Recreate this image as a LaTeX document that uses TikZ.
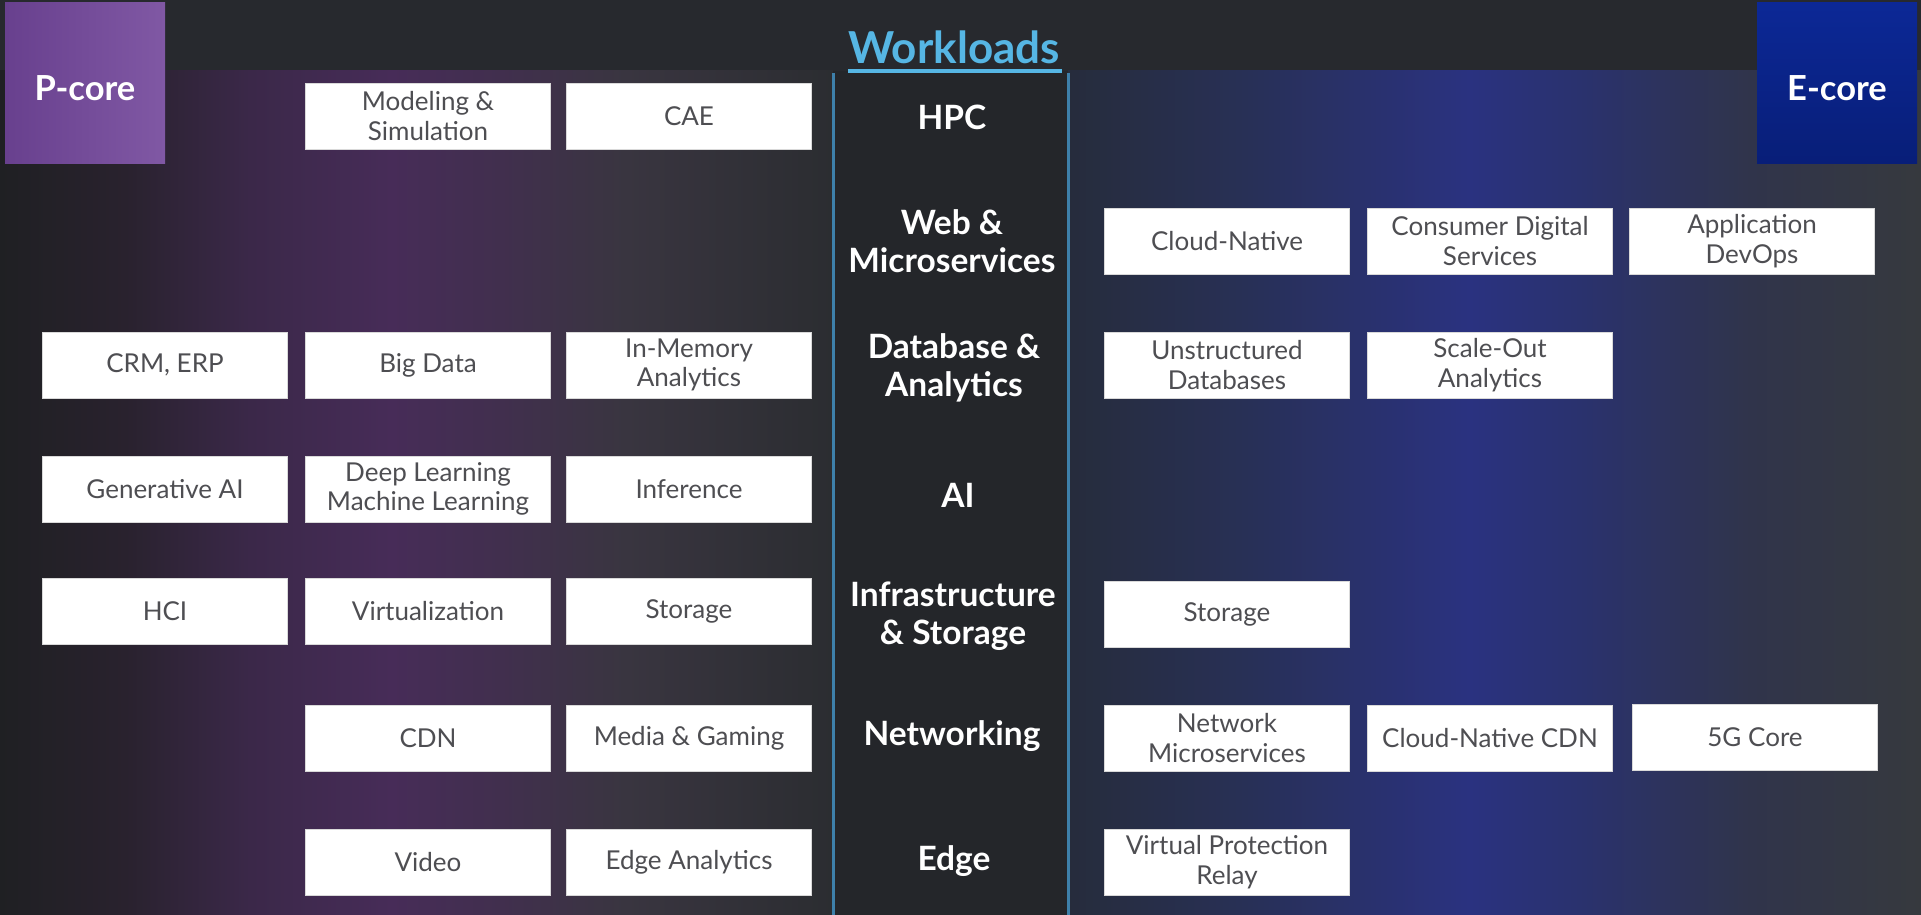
\documentclass[tikz,border=0pt]{standalone}
\usepackage{fontspec}
\setmainfont{Lato}
\usetikzlibrary{positioning}

\definecolor{bgtop}{RGB}{39,41,46}
\definecolor{colmid}{RGB}{36,38,42}
\definecolor{rule}{RGB}{62,128,170}
\definecolor{title}{RGB}{86,182,228}
\definecolor{boxtext}{RGB}{78,78,82}
\definecolor{pA}{RGB}{104,64,142}
\definecolor{pB}{RGB}{128,88,164}
\definecolor{eA}{RGB}{12,40,150}
\definecolor{eB}{RGB}{8,30,120}

% purple panel on the left, darkest at the outer edge
% (the path is mapped onto the 25bp--75bp part of the shading)
\pgfdeclarehorizontalshading{leftpanel}{100bp}{
  rgb(0bp)=(0.122,0.125,0.137);
  rgb(25bp)=(0.122,0.125,0.137);
  rgb(32.5bp)=(0.161,0.133,0.180);
  rgb(40bp)=(0.231,0.157,0.286);
  rgb(48.5bp)=(0.278,0.173,0.345);
  rgb(55bp)=(0.255,0.184,0.306);
  rgb(62.5bp)=(0.224,0.208,0.251);
  rgb(75bp)=(0.169,0.176,0.192);
  rgb(100bp)=(0.169,0.176,0.192)}
% blue panel on the right, fading to grey at the outer edge
\pgfdeclarehorizontalshading{rightpanel}{100bp}{
  rgb(0bp)=(0.149,0.173,0.235);
  rgb(25bp)=(0.149,0.173,0.235);
  rgb(35bp)=(0.157,0.188,0.333);
  rgb(48.5bp)=(0.165,0.196,0.502);
  rgb(55bp)=(0.165,0.196,0.431);
  rgb(65bp)=(0.188,0.204,0.294);
  rgb(75bp)=(0.212,0.224,0.243);
  rgb(100bp)=(0.212,0.224,0.243)}

\tikzset{
  wbox/.style={fill=white, draw=black!15, line width=0.8pt,
    minimum width=245pt, minimum height=66pt, inner sep=0pt,
    text=boxtext, align=center,
    font=\fontsize{26}{29.5}\selectfont},
  wlabel/.style={text=white, align=center, inner sep=0pt,
    font=\bfseries\fontsize{33.5}{38}\selectfont},
  corebox/.style={minimum width=160pt, minimum height=160pt, inner sep=0pt},
  corelabel/.style={text=white, inner sep=0pt,
    font=\bfseries\fontsize{34.5}{40}\selectfont},
}

\begin{document}
\begin{tikzpicture}[x=1pt, y=-1pt]
\useasboundingbox (0,0) rectangle (1921,915);

% background bands
\fill[bgtop] (0,0) rectangle (1921,915);
\shade[shading=leftpanel] (0,71) rectangle (833,915);
\shade[shading=rightpanel] (1068,71) rectangle (1921,915);
\fill[colmid] (833,71) rectangle (1068,915);

% central column rules
\draw[rule, line width=3pt] (833,73) -- (833,915);
\draw[rule, line width=3pt] (1068,73) -- (1068,915);

% heading
\node[text=title, font=\bfseries\fontsize{44}{52}\selectfont, inner sep=0pt,
  anchor=base] (wl) at (954,64) {Workloads};
\draw[title, line width=3.5pt] (848,71) -- (1062,71);

% core tiles
\node[corebox, left color=pA, right color=pB] (pcore) at (85,83) {};
\node[corelabel] (pcorelbl) at (85,88) {P-core};
\node[corebox, top color=eA, bottom color=eB] (ecore) at (1837,83) {};
\node[corelabel] (ecorelbl) at (1837,88) {E-core};

% workload categories
\node[wlabel] (hpc)   at (952,117) {HPC};
\node[wlabel] (web)   at (952,241) {Web \&\\Microservices};
\node[wlabel] (db)    at (954,368) {Database \&\\Analytics};
\node[wlabel] (ai)    at (958,495) {AI};
\node[wlabel] (infra) at (953,616) {Infrastructure\\\& Storage};
\node[wlabel] (net)   at (952,736) {Networking};
\node[wlabel] (edge)  at (954,861) {Edge};

% P-core workloads
\node[wbox] (modsim) at (428,116) {Modeling \&\\Simulation};
\node[wbox] (cae)    at (689,116) {CAE};

\node[wbox] (crm)    at (165,365) {CRM, ERP};
\node[wbox] (bigd)   at (428,365) {Big Data};
\node[wbox] (inmem)  at (689,365) {In-Memory\\Analytics};

\node[wbox] (genai)  at (165,489) {Generative AI};
\node[wbox] (deepl)  at (428,489) {Deep Learning\\Machine Learning};
\node[wbox] (infer)  at (689,489) {Inference};

\node[wbox] (hci)    at (165,611) {HCI};
\node[wbox] (virt)   at (428,611) {Virtualization};
\node[wbox] (stor)   at (689,611) {Storage};

\node[wbox] (cdn)    at (428,738) {CDN};
\node[wbox] (media)  at (689,738) {Media \& Gaming};

\node[wbox] (video)  at (428,862) {Video};
\node[wbox] (edgean) at (689,862) {Edge Analytics};

% E-core workloads
\node[wbox] (cloudn) at (1227,241) {Cloud-Native};
\node[wbox] (consum) at (1490,241) {Consumer Digital\\Services};
\node[wbox] (appdev) at (1752,241) {Application\\DevOps};

\node[wbox] (unstr)  at (1227,365) {Unstructured\\Databases};
\node[wbox] (scale)  at (1490,365) {Scale-Out\\Analytics};

\node[wbox] (estor)  at (1227,614) {Storage};

\node[wbox] (netms)  at (1227,738) {Network\\Microservices};
\node[wbox] (cncdn)  at (1490,738) {Cloud-Native CDN};
\node[wbox] (fiveg)  at (1755,737) {5G Core};

\node[wbox] (vpr)    at (1227,862) {Virtual Protection\\Relay};
\end{tikzpicture}
\end{document}
